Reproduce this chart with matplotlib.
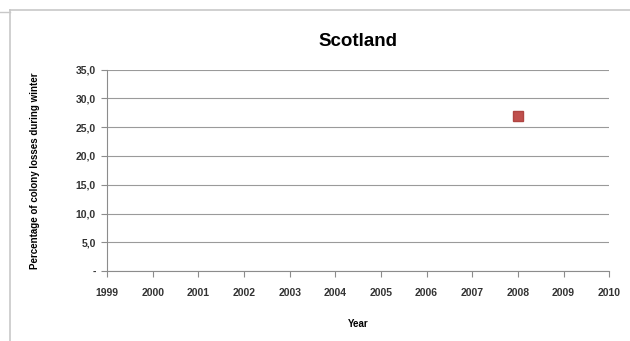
import matplotlib.pyplot as plt
from matplotlib.lines import Line2D

years = list(range(1999, 2011))
obs_years = [2008]
losses = [26.9]
yticks = [0, 5, 10, 15, 20, 25, 30, 35]

plt.rcParams['font.family'] = ['Liberation Sans', 'DejaVu Sans']

fig = plt.figure(figsize=(6.3, 3.41), dpi=100)
ax = fig.add_axes([0.170, 0.205, 0.797, 0.591])

ax.plot(obs_years, losses, linestyle='none', marker='s', markersize=6.5,
        color='#c0504d', markeredgecolor='#b04542')

ax.set_xlim(1999, 2010)
ax.set_ylim(0, 35)
ax.set_xticks(years)
ax.set_xticklabels([str(y) for y in years], fontsize=7.5, fontweight='bold', color='#333333')
ax.set_yticks(yticks)
ax.set_yticklabels(['-' if v == 0 else f'{v:.1f}'.replace('.', ',') for v in yticks],
                   fontsize=7.5, fontweight='bold', color='#333333')
ax.grid(axis='y', color='#9a9a9a', linewidth=0.8)
ax.set_axisbelow(True)
for s in ['top', 'right']:
    ax.spines[s].set_visible(False)
for s in ['left', 'bottom']:
    ax.spines[s].set_color('#8c8c8c')
    ax.spines[s].set_linewidth(0.8)
ax.tick_params(axis='both', length=4, color='#8c8c8c', width=0.8)
ax.tick_params(axis='y', pad=4)
ax.tick_params(axis='x', pad=8)

ax.set_xlabel('Year', fontsize=7, fontweight='bold', labelpad=15)
ax.set_ylabel('Percentage of colony losses during winter', fontsize=7,
              fontweight='bold', labelpad=26)
ax.set_title('Scotland', fontsize=13.5, fontweight='bold', pad=17)

# screenshot frame lines
fig.add_artist(Line2D([10 / 630, 1], [1 - 10 / 341] * 2, color='#c8c8c8', linewidth=1.2))
fig.add_artist(Line2D([10 / 630] * 2, [0, 1 - 10 / 341], color='#c8c8c8', linewidth=1.2))
fig.add_artist(Line2D([0, 10 / 630], [1 - 12 / 341] * 2, color='#c8c8c8', linewidth=1.0))

fig.savefig('out.png', dpi=100)
